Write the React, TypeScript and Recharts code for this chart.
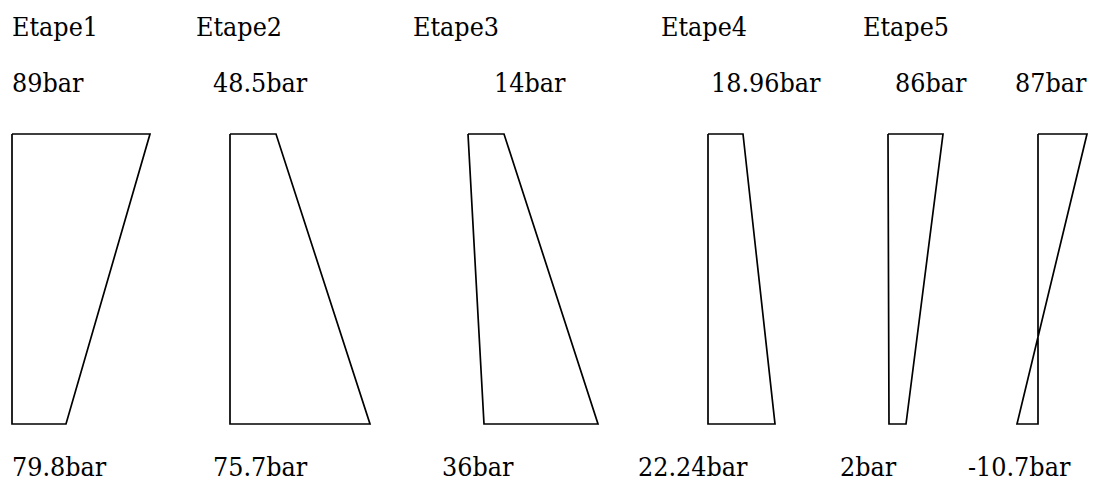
// @ts-nocheck
import { ComposedChart, Line, Scatter, XAxis, YAxis } from 'recharts'

const stages = ['Etape1', 'Etape2', 'Etape3', 'Etape4', 'Etape5']
const stageX = [12, 196, 413, 661, 863]

const topValues = ['89bar', '48.5bar', '14bar', '18.96bar', '86bar', '87bar']
const bottomValues = ['79.8bar', '75.7bar', '36bar', '22.24bar', '2bar', '-10.7bar']
const topLabelX = [12, 213, 494, 711, 895, 1015]
const bottomLabelX = [12, 213, 442, 638, 840, 968]

// diagram outline per stage: top edge start/end, bottom edge end/start
const topStart = [12, 230, 468, 708, 888, 1038]
const topEnd = [150, 276, 504, 743, 943, 1087]
const bottomEnd = [66, 370, 598, 775, 906, 1017]
const bottomStart = [12, 230, 484, 708, 889, 1038]

const TOP = 134
const BOTTOM = 424

const shapes = topStart.map((s, i) => [
  { x: s, y: TOP },
  { x: topEnd[i], y: TOP },
  { x: bottomEnd[i], y: BOTTOM },
  { x: bottomStart[i], y: BOTTOM },
  { x: s, y: TOP },
])

const labels = [
  ...stages.map((t, i) => ({ x: stageX[i], y: 36, text: t })),
  ...topValues.map((t, i) => ({ x: topLabelX[i], y: 92, text: t })),
  ...bottomValues.map((t, i) => ({ x: bottomLabelX[i], y: 476, text: t })),
]

const SERIF = '"DejaVu Serif Condensed", "DejaVu Serif"'

const TextMark = (props) => {
  const { cx, cy, payload } = props
  return (
    <text
      x={cx}
      y={cy}
      fontFamily={SERIF}
      fontStretch="condensed"
      fontSize={26.6}
      fill="#000"
      stroke="none"
    >
      {payload.text}
    </text>
  )
}

export default function App() {
  return (
    <div style={{ position: 'absolute', left: 0, top: 0, width: 1100, height: 481, background: '#fff' }}>
      <ComposedChart width={1100} height={481} margin={{ top: 0, right: 0, bottom: 0, left: 0 }}>
        <XAxis type="number" dataKey="x" domain={[0, 1100]} hide />
        <YAxis type="number" dataKey="y" domain={[0, 481]} reversed hide />
        {shapes.map((d, i) => (
          <Line
            key={i}
            data={d}
            dataKey="y"
            type="linear"
            stroke="#000"
            strokeWidth={1.7}
            dot={false}
            activeDot={false}
            isAnimationActive={false}
          />
        ))}
        <Scatter data={labels} dataKey="y" shape={TextMark} isAnimationActive={false} />
      </ComposedChart>
    </div>
  )
}
